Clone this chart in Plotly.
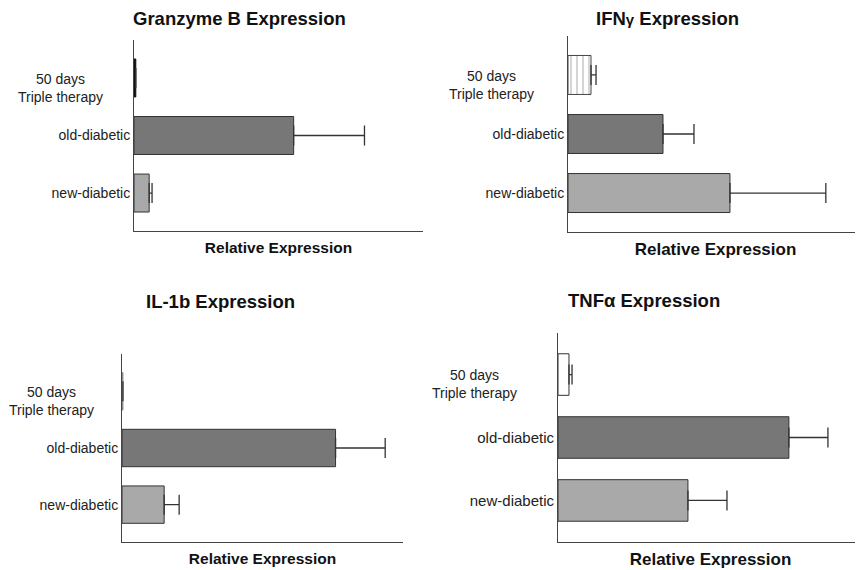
import plotly.graph_objects as go

# ---------------- data ----------------
categories = ["new-diabetic", "old-diabetic", "50 days<br>Triple therapy"]
positions = [0, 1, 2]

granzyme_values = [2.1, 22.1, 0.25]
granzyme_err = [0.4, 9.8, 0.0]

ifng_values = [5.49, 3.22, 0.78]
ifng_err = [3.25, 1.05, 0.17]

il1b_values = [4.5, 22.8, 0.1]
il1b_err = [1.6, 5.3, 0.0]

tnfa_values = [4.26, 7.57, 0.36]
tnfa_err = [1.28, 1.28, 0.1]

panel_titles = ["Granzyme B Expression", "IFN<span style='font-size:15px'>γ</span> Expression",
                "IL-1b Expression", "TNFα Expression"]
x_title = "Relative Expression"
x_ranges = [40, 10, 30, 10]

# the page body adds an 8px margin; the figure fills the rest of the 863x570 window
OFF = 8
W, H = 863 - OFF, 570 - OFF
FONT = "Liberation Sans, Arial, sans-serif"


def fx(p):
    return (p - OFF) / W


def fy(p):
    return 1 - (p - OFF) / H


# panel geometry in window pixels
panels = [
    dict(x=(134, 423), y=(40, 231), tick=14, xt=15.5, title=(240, 18), tri=(60, 88), fill3="#111111", line3="#111111", pat=""),
    dict(x=(568, 863), y=(36, 232), tick=14, xt=17, title=(667, 18), tri=(491, 85), fill3="white", line3="#444444", pat="|"),
    dict(x=(122, 403), y=(354, 542), tick=14, xt=15.5, title=(220, 301), tri=(51, 401), fill3="#888888", line3="#888888", pat=""),
    dict(x=(558, 863), y=(333, 542), tick=15, xt=17, title=(644, 300), tri=(475, 384), fill3="white", line3="#333333", pat=""),
]
values = [granzyme_values, ifng_values, il1b_values, tnfa_values]
errors = [granzyme_err, ifng_err, il1b_err, tnfa_err]

fig = go.Figure()
annotations = []
layout = {}

for i, (p, vals, errs) in enumerate(zip(panels, values, errors)):
    n = "" if i == 0 else str(i + 1)
    fills = ["#a9a9a9", "#777777", p["fill3"]]
    lines = ["#333333", "#333333", p["line3"]]
    fig.add_trace(go.Bar(
        x=vals, y=positions, orientation="h", width=0.66,
        xaxis="x" + n, yaxis="y" + n,
        marker=dict(color=fills, line=dict(color=lines, width=1),
                    pattern=dict(shape=["", "", p["pat"]], fgcolor="#777777",
                                 bgcolor="white", size=6, solidity=0.15)),
        error_x=dict(type="data", array=errs, arrayminus=[0, 0, 0], symmetric=False,
                     color="#333333", thickness=1.3, width=10),
        showlegend=False,
    ))
    layout["xaxis" + n] = dict(
        domain=[fx(p["x"][0]), min(1, fx(p["x"][1]))], anchor="y" + n,
        range=[0, x_ranges[i]], showgrid=False, zeroline=False,
        showticklabels=False, ticks="", showline=True, linecolor="#444444", linewidth=1,
        title=dict(text="<b>" + x_title + "</b>", font=dict(family=FONT, size=p["xt"], color="#111111"), standoff=11),
    )
    layout["yaxis" + n] = dict(
        domain=[fy(p["y"][1]), fy(p["y"][0])], anchor="x" + n,
        range=[-0.66, 2.66], showgrid=False, zeroline=False,
        tickvals=positions[:2], ticktext=categories[:2], ticks="",
        tickfont=dict(family=FONT, size=p["tick"], color="#222222"),
        showline=True, linecolor="#444444", linewidth=1,
    )
    annotations.append(dict(
        text="<b>" + panel_titles[i] + "</b>", x=fx(p["title"][0]), y=fy(p["title"][1]),
        xref="paper", yref="paper", xanchor="center", yanchor="middle", showarrow=False,
        font=dict(family=FONT, size=18.5, color="#111111"),
    ))
    annotations.append(dict(
        text=categories[2], x=fx(p["tri"][0]), y=fy(p["tri"][1]),
        xref="paper", yref="paper", xanchor="center", yanchor="middle", align="center",
        showarrow=False, font=dict(family=FONT, size=14, color="#222222"),
    ))

fig.update_layout(
    width=W, height=H, margin=dict(l=0, r=0, t=0, b=0),
    paper_bgcolor="white", plot_bgcolor="white",
    annotations=annotations, font=dict(family=FONT),
    **layout,
)

fig.write_html("out.html")
